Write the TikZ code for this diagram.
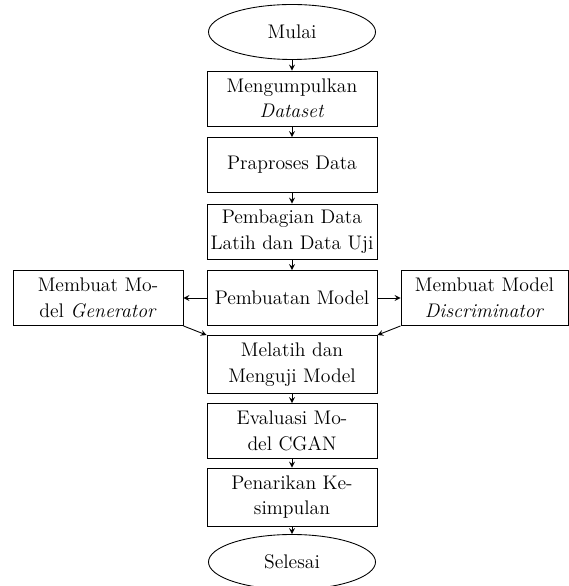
\documentclass[tikz,border=0pt]{standalone}
\usetikzlibrary{shapes.geometric}

\tikzset{
    >=stealth,
    every node/.style={font=\fontsize{11.2}{14.5}\selectfont, align=center},
    stepbox/.style={draw, line width=0.5pt, minimum width=3.4cm, minimum height=1.1cm, inner xsep=1pt},
    termbox/.style={draw, ellipse, line width=0.5pt, minimum width=3.34cm, minimum height=1.1cm},
    flow/.style={->, line width=0.5pt}
}

\begin{document}
\begin{tikzpicture}
    \useasboundingbox (0,0) rectangle (11.38,11.72);

    % Main column
    \node[termbox] (start) at (5.84,11.08) {Mulai};
    \node[stepbox] (collect) at (5.84,9.75) {Mengumpulkan\\\textit{Dataset}};
    \node[stepbox] (prep) at (5.84,8.42) {Praproses Data};
    \node[stepbox] (split) at (5.84,7.09) {Pembagian Data\\Latih dan Data Uji};
    \node[stepbox] (build) at (5.84,5.76) {Pembuatan Model};
    \node[stepbox, minimum height=1.16cm] (train) at (5.84,4.43) {Melatih dan\\Menguji Model};
    \node[stepbox] (eval) at (5.84,3.10) {Evaluasi Mo-\\del CGAN};
    \node[stepbox, minimum height=1.16cm] (concl) at (5.84,1.78) {Penarikan Ke-\\simpulan};
    \node[termbox] (finish) at (5.84,0.48) {Selesai};

    % Side models
    \node[stepbox] (gen) at (1.96,5.76) {Membuat Mo-\\del \textit{Generator}};
    \node[stepbox, minimum width=3.34cm] (disc) at (9.69,5.76) {Membuat Model\\\textit{Discriminator}};

    % Connectors
    \draw[flow] (start) -- (collect);
    \draw[flow] (collect) -- (prep);
    \draw[flow] (prep) -- (split);
    \draw[flow] (split) -- (build);
    \draw[flow] (build) -- (gen);
    \draw[flow] (build) -- (disc);
    \draw[flow] (gen.south east) -- (train.north west);
    \draw[flow] (disc.south west) -- (train.north east);
    \draw[flow] (train) -- (eval);
    \draw[flow] (eval) -- (concl);
    \draw[flow] (concl) -- (finish);
\end{tikzpicture}
\end{document}
